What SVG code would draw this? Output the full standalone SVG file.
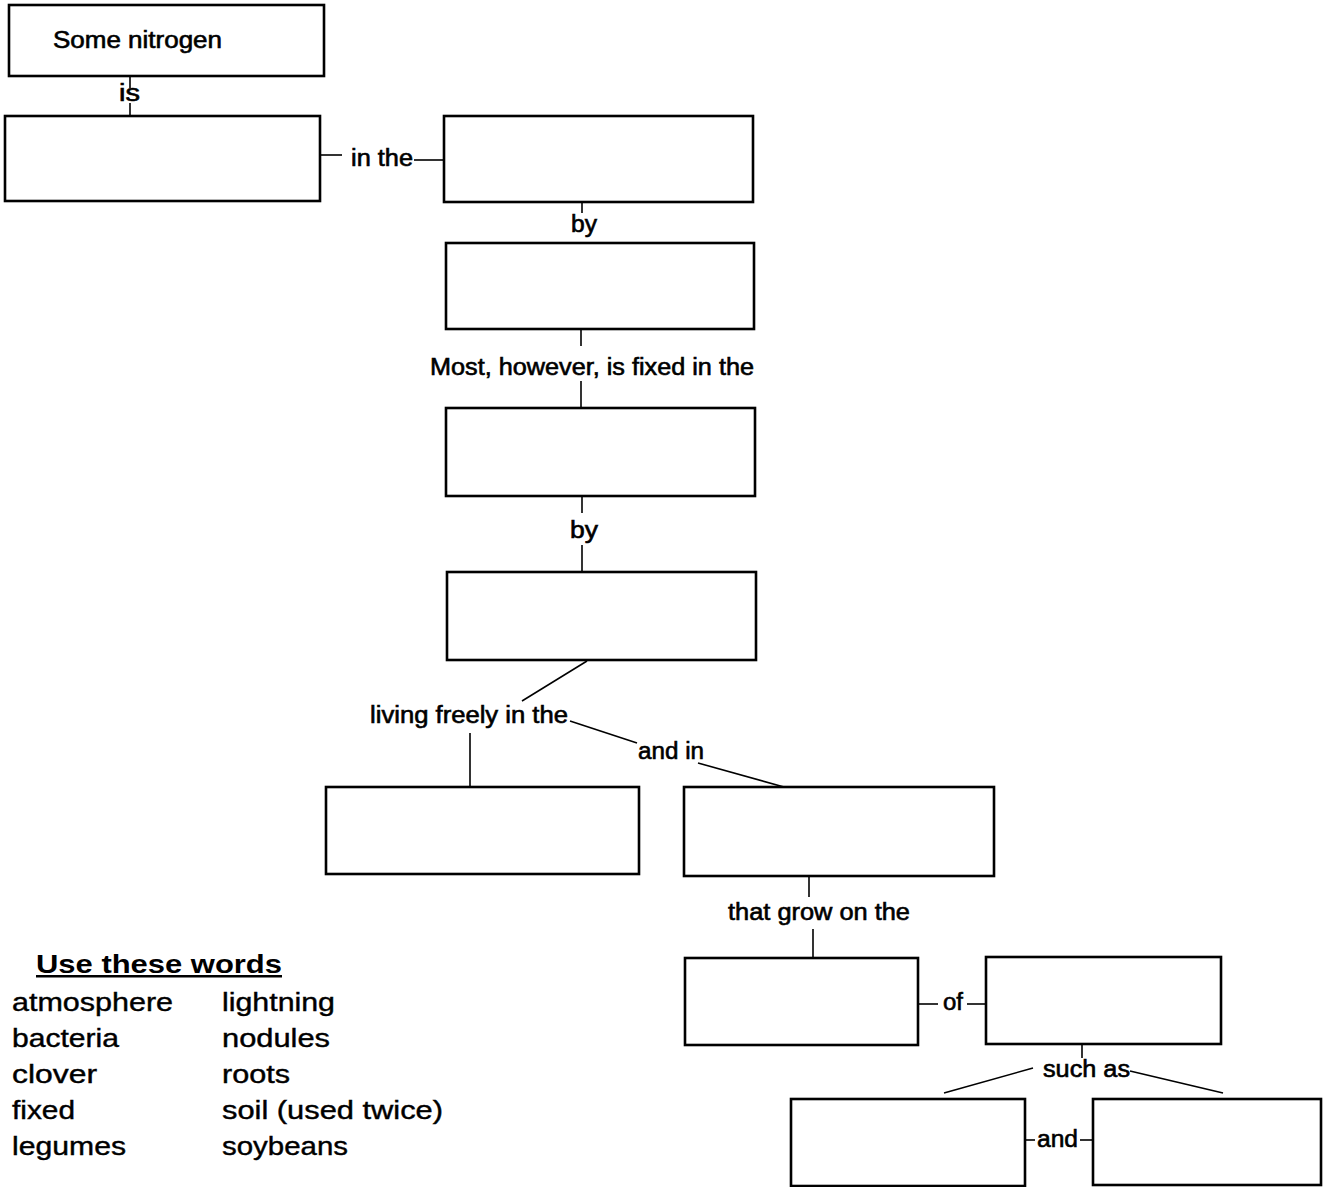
<svg xmlns="http://www.w3.org/2000/svg" width="1323" height="1187" viewBox="0 0 1323 1187">
<style>
.box{fill:#fff;stroke:#000;stroke-width:2.6}
.ln{stroke:#000;stroke-width:1.6;fill:none}
.t{font-family:"Liberation Sans",Arial,sans-serif;font-size:23px;fill:#000;stroke:#000;stroke-width:0.6}
.w{font-family:"Liberation Sans",Arial,sans-serif;font-size:25px;fill:#000;stroke:#000;stroke-width:0.4}
.h{font-family:"Liberation Sans",Arial,sans-serif;font-size:25px;font-weight:bold;fill:#000;text-decoration:underline}
</style>
<rect width="1323" height="1187" fill="#fff"/>
<g id="connectors">
<line class="ln" x1="130" y1="76" x2="130" y2="88"/>
<line class="ln" x1="130" y1="103" x2="130" y2="116"/>
<line class="ln" x1="320" y1="155" x2="342" y2="155"/>
<line class="ln" x1="414" y1="160" x2="444" y2="160"/>
<line class="ln" x1="582" y1="202" x2="582" y2="213"/>
<line class="ln" x1="581" y1="329" x2="581" y2="346"/>
<line class="ln" x1="581" y1="381" x2="581" y2="408"/>
<line class="ln" x1="582" y1="496" x2="582" y2="513"/>
<line class="ln" x1="582" y1="545" x2="582" y2="572"/>
<line class="ln" x1="587" y1="661" x2="522" y2="701"/>
<line class="ln" x1="470" y1="733" x2="470" y2="787"/>
<line class="ln" x1="570" y1="721" x2="637" y2="743"/>
<line class="ln" x1="698" y1="763" x2="784" y2="787"/>
<line class="ln" x1="809" y1="876" x2="809" y2="897"/>
<line class="ln" x1="813" y1="929" x2="813" y2="958"/>
<line class="ln" x1="918" y1="1004" x2="938" y2="1004"/>
<line class="ln" x1="967" y1="1004" x2="986" y2="1004"/>
<line class="ln" x1="1082" y1="1044" x2="1082" y2="1058"/>
<line class="ln" x1="1033" y1="1068" x2="944" y2="1093"/>
<line class="ln" x1="1130" y1="1071" x2="1223" y2="1093"/>
<line class="ln" x1="1025" y1="1140" x2="1035" y2="1140"/>
<line class="ln" x1="1080" y1="1140" x2="1093" y2="1140"/>
</g>
<g id="labels">
<text class="t" x="119" y="101" textLength="21" lengthAdjust="spacingAndGlyphs">is</text>
<text class="t" x="351" y="166" textLength="62" lengthAdjust="spacingAndGlyphs">in the</text>
<text class="t" x="571" y="232" textLength="26" lengthAdjust="spacingAndGlyphs">by</text>
<text class="t" x="430" y="375" textLength="324" lengthAdjust="spacingAndGlyphs">Most, however, is fixed in the</text>
<text class="t" x="570" y="538" textLength="28" lengthAdjust="spacingAndGlyphs">by</text>
<text class="t" x="370" y="723" textLength="198" lengthAdjust="spacingAndGlyphs">living freely in the</text>
<text class="t" x="638" y="759" textLength="66" lengthAdjust="spacingAndGlyphs">and in</text>
<text class="t" x="728" y="920" textLength="182" lengthAdjust="spacingAndGlyphs">that grow on the</text>
<text class="t" x="943" y="1010" textLength="20" lengthAdjust="spacingAndGlyphs">of</text>
<text class="t" x="1043" y="1077" textLength="87" lengthAdjust="spacingAndGlyphs">such as</text>
<text class="t" x="1037" y="1147" textLength="41" lengthAdjust="spacingAndGlyphs">and</text>
</g>
<g id="n1"><rect class="box" x="9" y="5" width="315" height="71"/>
<text class="t" x="53" y="48" textLength="169" lengthAdjust="spacingAndGlyphs">Some nitrogen</text></g>
<g id="n2"><rect class="box" x="5" y="116" width="315" height="85"/></g>
<g id="n3"><rect class="box" x="444" y="116" width="309" height="86"/></g>
<g id="n4"><rect class="box" x="446" y="243" width="308" height="86"/></g>
<g id="n5"><rect class="box" x="446" y="408" width="309" height="88"/></g>
<g id="n6"><rect class="box" x="447" y="572" width="309" height="88"/></g>
<g id="n7"><rect class="box" x="326" y="787" width="313" height="87"/></g>
<g id="n8"><rect class="box" x="684" y="787" width="310" height="89"/></g>
<g id="n9"><rect class="box" x="685" y="958" width="233" height="87"/></g>
<g id="n10"><rect class="box" x="986" y="957" width="235" height="87"/></g>
<g id="n11"><rect class="box" x="791" y="1099" width="234" height="87"/></g>
<g id="n12"><rect class="box" x="1093" y="1099" width="228" height="86"/></g>
<g id="wordlist">
<text class="h" x="36" y="973" textLength="246" lengthAdjust="spacingAndGlyphs">Use these words</text>
<text class="w" x="12" y="1011" textLength="161" lengthAdjust="spacingAndGlyphs">atmosphere</text>
<text class="w" x="12" y="1047" textLength="107" lengthAdjust="spacingAndGlyphs">bacteria</text>
<text class="w" x="12" y="1083" textLength="85" lengthAdjust="spacingAndGlyphs">clover</text>
<text class="w" x="12" y="1119" textLength="63" lengthAdjust="spacingAndGlyphs">fixed</text>
<text class="w" x="12" y="1155" textLength="114" lengthAdjust="spacingAndGlyphs">legumes</text>
<text class="w" x="222" y="1011" textLength="113" lengthAdjust="spacingAndGlyphs">lightning</text>
<text class="w" x="222" y="1047" textLength="108" lengthAdjust="spacingAndGlyphs">nodules</text>
<text class="w" x="222" y="1083" textLength="68" lengthAdjust="spacingAndGlyphs">roots</text>
<text class="w" x="222" y="1119" textLength="221" lengthAdjust="spacingAndGlyphs">soil (used twice)</text>
<text class="w" x="222" y="1155" textLength="126" lengthAdjust="spacingAndGlyphs">soybeans</text>
</g>
</svg>
